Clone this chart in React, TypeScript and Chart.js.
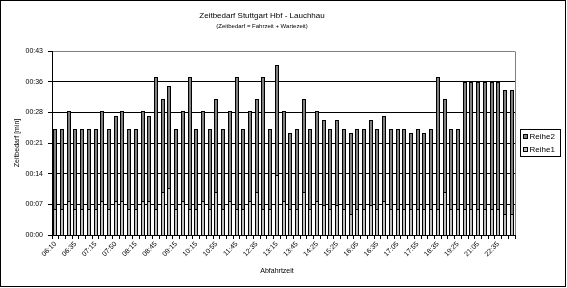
import React, { useEffect, useRef } from "react";
import { Chart, registerables } from "chart.js";

Chart.register(...registerables);

const TITLE = "Zeitbedarf Stuttgart Hbf - Lauchhau";
const SUBTITLE = "(Zeitbedarf = Fahrzeit + Wartezeit)";
const X_TITLE = "Abfahrtzeit";
const Y_TITLE = "Zeitbedarf [min]";

const categories = [
  "06:10", "06:20", "06:25", "06:35", "06:45", "07:05", "07:15", "07:25", "07:35", "07:50",
  "07:55", "08:05", "08:15", "08:25", "08:35", "08:45", "08:55", "09:05", "09:15", "09:35",
  "09:55", "10:15", "10:35", "10:45", "10:55", "11:15", "11:35", "11:45", "12:05", "12:15",
  "12:35", "12:45", "12:55", "13:15", "13:25", "13:35", "13:45", "13:55", "14:05", "14:25",
  "14:45", "15:05", "15:25", "15:35", "15:45", "16:05", "16:15", "16:25", "16:35", "16:45",
  "16:55", "17:05", "17:15", "17:35", "17:55", "18:05", "18:25", "18:35", "18:55", "19:05",
  "19:25", "19:45", "20:25", "21:05", "21:25", "22:05", "22:35", "23:05", "23:35",
];

// Reihe1: lower segment (minutes)
const reihe1 = [
  6, 6, 8, 6, 6, 6, 6, 8, 6, 8,
  8, 6, 6, 8, 8, 6, 10, 11, 6, 8,
  6, 6, 8, 6, 10, 6, 8, 6, 6, 8,
  10, 6, 6, 14, 8, 6, 6, 10, 6, 8,
  7, 6, 7, 6, 5, 6, 6, 7, 6, 8,
  6, 6, 6, 6, 6, 6, 6, 6, 10, 6,
  6, 6, 6, 6, 6, 6, 6, 5, 5,
];

// Reihe2: upper segment (minutes)
const reihe2 = [
  19, 19, 21, 19, 19, 19, 19, 21, 19, 20,
  21, 19, 19, 21, 20, 31, 22, 24, 19, 21,
  31, 19, 21, 19, 22, 19, 21, 31, 19, 21,
  22, 31, 19, 26, 21, 18, 19, 22, 19, 21,
  20, 19, 20, 19, 19, 19, 19, 20, 19, 20,
  19, 19, 19, 18, 19, 18, 19, 31, 22, 19,
  19, 30, 30, 30, 30, 30, 30, 29, 29,
];

const Y_MAX = 43.2;
const Y_STEP = 7.2;
const LABEL_EVERY = 3;
const BAR_W = 4;

const COLOR_R1 = "#c0c0c0";
const COLOR_R2 = "#808080";
const FONT = "Arial, 'Liberation Sans', sans-serif";

function fmtMinutes(v: number): string {
  const m = Math.floor(v + 1e-6);
  return "00:" + String(m).padStart(2, "0");
}

// snap bar elements (computed by the scales) to whole pixels for crisp outlines
const snapPlugin = {
  id: "snap",
  beforeDatasetsDraw(chart: any) {
    chart.data.datasets.forEach((_d: any, di: number) => {
      const meta = chart.getDatasetMeta(di);
      meta.data.forEach((el: any) => {
        el.x = Math.round(el.x - BAR_W / 2) + BAR_W / 2;
        el.width = BAR_W;
        el.y = Math.round(el.y);
        el.base = Math.round(el.base);
      });
    });
  },
};

const decorPlugin = {
  id: "decor",
  beforeDraw(chart: any) {
    const { ctx, width, height } = chart;
    ctx.save();
    ctx.fillStyle = "#ffffff";
    ctx.fillRect(0, 0, width, height);
    ctx.restore();
  },
  afterDraw(chart: any) {
    const { ctx, chartArea: a } = chart;
    ctx.save();
    ctx.strokeStyle = "#808080";
    ctx.lineWidth = 1;
    const rx = Math.round(a.right) + 0.5;
    ctx.beginPath();
    ctx.moveTo(rx, Math.round(a.top) + 0.5);
    ctx.lineTo(rx, Math.round(a.bottom));
    ctx.stroke();

    ctx.strokeStyle = "#000000";
    ctx.strokeRect(0.5, 0.5, 565, 286);

    ctx.fillStyle = "#000000";
    ctx.textAlign = "center";
    ctx.textBaseline = "middle";
    ctx.font = `8px ${FONT}`;
    ctx.fillText(TITLE, 262, 16);
    ctx.font = `6px ${FONT}`;
    ctx.fillText(SUBTITLE, 262, 26);

    ctx.font = `7px ${FONT}`;
    ctx.fillText(X_TITLE, 277, 271);

    ctx.save();
    ctx.translate(17, 143);
    ctx.rotate(-Math.PI / 2);
    ctx.font = `7px ${FONT}`;
    ctx.fillText(Y_TITLE, 0, 0);
    ctx.restore();

    const ds = chart.data.datasets;
    const order = [1, 0];
    ctx.strokeStyle = "#000000";
    ctx.strokeRect(520.5, 129.5, 40, 27);
    ctx.textAlign = "left";
    ctx.font = `8px ${FONT}`;
    order.forEach((di: number, k: number) => {
      const cy = 136.5 + k * 13.5;
      const top = Math.round(cy - 3);
      ctx.fillStyle = ds[di].backgroundColor;
      ctx.fillRect(523, top, 5, 5);
      ctx.strokeRect(523.5, top + 0.5, 4, 4);
      ctx.fillStyle = "#000000";
      ctx.fillText(ds[di].label, 529.5, cy);
    });
    ctx.restore();
  },
};

export default function App() {
  const ref = useRef<HTMLCanvasElement | null>(null);

  useEffect(() => {
    if (!ref.current) return;
    const barCommon = {
      borderColor: "#000000",
      borderWidth: 1,
      barThickness: BAR_W,
      inflateAmount: 0,
    };
    const chart = new Chart(ref.current, {
      type: "bar",
      data: {
        labels: categories,
        datasets: [
          { label: "Reihe1", data: reihe1, backgroundColor: COLOR_R1, ...barCommon },
          { label: "Reihe2", data: reihe2, backgroundColor: COLOR_R2, ...barCommon },
        ],
      },
      options: {
        animation: false,
        responsive: false,
        devicePixelRatio: 1,
        layout: { padding: { top: 51, left: 0, right: 52, bottom: 0 } },
        plugins: {
          legend: { display: false },
          title: { display: false },
          tooltip: { enabled: false },
        },
        scales: {
          x: {
            stacked: true,
            grid: {
              display: true,
              drawOnChartArea: false,
              drawTicks: true,
              tickLength: 4,
              color: "#000000",
              offset: true,
            },
            border: { color: "#000000" },
            ticks: {
              autoSkip: false,
              maxRotation: 45,
              minRotation: 45,
              padding: 1,
              color: "#000000",
              font: { family: FONT, size: 7 },
              callback: (_v: any, i: number) => (i % LABEL_EVERY === 0 ? categories[i] : ""),
            },
            afterFit: (s: any) => {
              s.height = 53;
            },
          },
          y: {
            stacked: true,
            min: 0,
            max: Y_MAX,
            ticks: {
              stepSize: Y_STEP,
              padding: 5,
              color: "#000000",
              font: { family: FONT, size: 7 },
              callback: (v: any) => fmtMinutes(Number(v)),
            },
            grid: {
              color: (c: any) =>
                c.tick && Math.abs(c.tick.value - Y_MAX) < 0.01 ? "#808080" : "#000000",
              tickColor: "#000000",
              tickLength: 4,
            },
            border: { color: "#000000" },
            afterFit: (s: any) => {
              s.width = 52;
            },
          },
        },
      },
      plugins: [snapPlugin, decorPlugin],
    });
    return () => chart.destroy();
  }, []);

  return (
    <div style={{ position: "fixed", left: 0, top: 0, width: 567, height: 288, background: "#fff" }}>
      <canvas ref={ref} width={567} height={288} style={{ display: "block" }} />
    </div>
  );
}
